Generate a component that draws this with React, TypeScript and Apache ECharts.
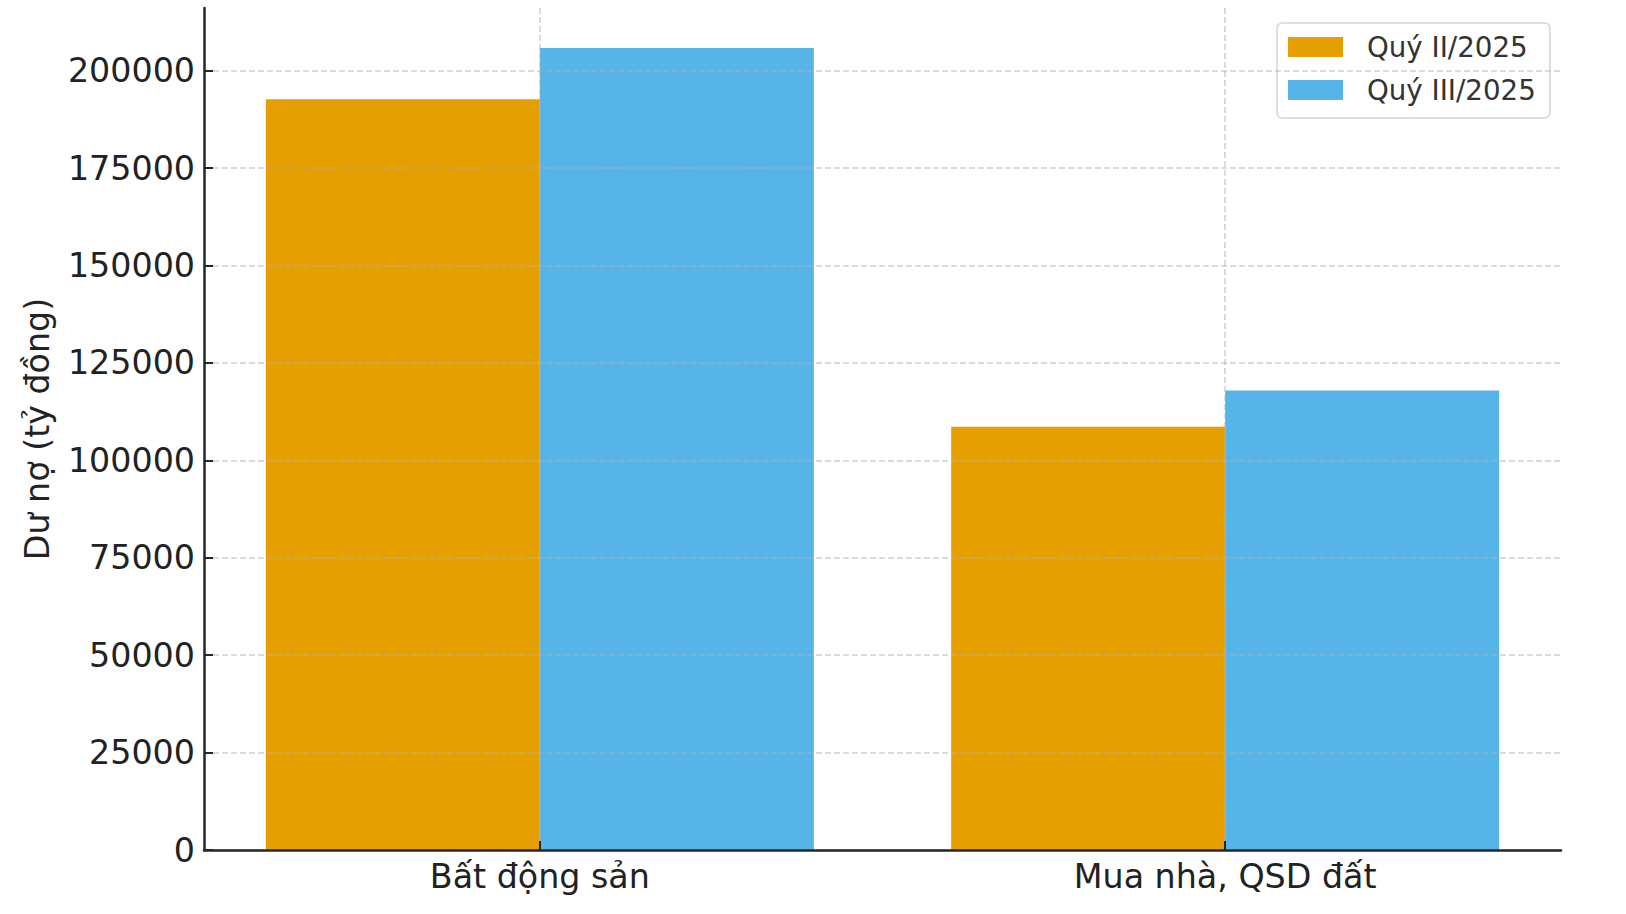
import React, { useEffect, useRef } from "react";
import * as echarts from "echarts";

const categories = ["Bất động sản", "Mua nhà, QSD đất"];
const seriesNames = ["Quý II/2025", "Quý III/2025"];
const q2Values = [192700, 108600];
const q3Values = [205800, 117900];
const yTicks = [0, 25000, 50000, 75000, 100000, 125000, 150000, 175000, 200000];
const xTicks = [0, 1];

const FONT = "DejaVu Sans";
const gridColor = "rgba(176,176,176,0.6)";

export default function App() {
  const ref = useRef<HTMLDivElement>(null);
  useEffect(() => {
    if (!ref.current) return;
    const chart = echarts.init(ref.current, null, { renderer: "svg" });
    chart.setOption({
      animation: false,
      backgroundColor: "#ffffff",
      textStyle: { fontFamily: FONT },
      grid: { left: 204, right: 65, top: 8, bottom: 64, containLabel: false },
      legend: {
        orient: "vertical",
        left: 1277,
        top: 23,
        icon: "rect",
        itemWidth: 55,
        itemHeight: 20,
        itemGap: 13,
        padding: [9, 14, 13, 11],
        borderColor: "#d5d5d5",
        borderWidth: 1.5,
        borderRadius: 5,
        backgroundColor: "#ffffff",
        textStyle: {
          fontFamily: FONT,
          fontSize: 27.7,
          color: "#333333",
          lineHeight: 30,
          padding: [0, 0, 0, 19],
        },
        data: seriesNames,
      },
      xAxis: {
        type: "value",
        min: -0.49,
        max: 1.49,
        z: 5,
        splitLine: {
          show: true,
          lineStyle: { color: gridColor, width: 1.5, type: [6, 3] },
        },
        axisLine: { show: true, lineStyle: { color: "#262626", width: 2.5 } },
        axisTick: {
          show: true,
          inside: true,
          length: 9,
          customValues: xTicks,
          lineStyle: { color: "#262626", width: 2 },
        },
        axisLabel: {
          customValues: xTicks,
          formatter: (v: number) => categories[Math.round(v)] ?? "",
          fontFamily: FONT,
          fontSize: 33.3,
          color: "#222222",
          margin: 10,
        },
      },
      yAxis: {
        type: "value",
        min: 0,
        max: 216090,
        z: 5,
        name: "Dư nợ (tỷ đồng)",
        nameLocation: "middle",
        nameGap: 150,
        nameTextStyle: { fontFamily: FONT, fontSize: 33.3, color: "#222222" },
        splitLine: {
          show: true,
          lineStyle: { color: gridColor, width: 1.5, type: [6, 3] },
        },
        axisLine: {
          show: true,
          onZero: false,
          lineStyle: { color: "#262626", width: 2.5 },
        },
        axisTick: {
          show: true,
          inside: true,
          length: 9,
          customValues: yTicks,
          lineStyle: { color: "#262626", width: 2 },
        },
        axisLabel: {
          customValues: yTicks,
          formatter: (v: number) => String(v),
          fontFamily: FONT,
          fontSize: 33.3,
          color: "#222222",
          margin: 9,
        },
      },
      series: [
        {
          name: seriesNames[0],
          type: "bar",
          barWidth: 274,
          barGap: "0%",
          z: 2,
          itemStyle: { color: "#E69F00" },
          data: q2Values.map((v, i) => [i, v]),
        },
        {
          name: seriesNames[1],
          type: "bar",
          barWidth: 274,
          barGap: "0%",
          z: 2,
          itemStyle: { color: "#56B4E9" },
          data: q3Values.map((v, i) => [i, v]),
        },
      ],
    });
    return () => chart.dispose();
  }, []);
  return (
    <div
      ref={ref}
      style={{ position: "fixed", left: 0, top: 0, width: 1626, height: 914 }}
    />
  );
}
